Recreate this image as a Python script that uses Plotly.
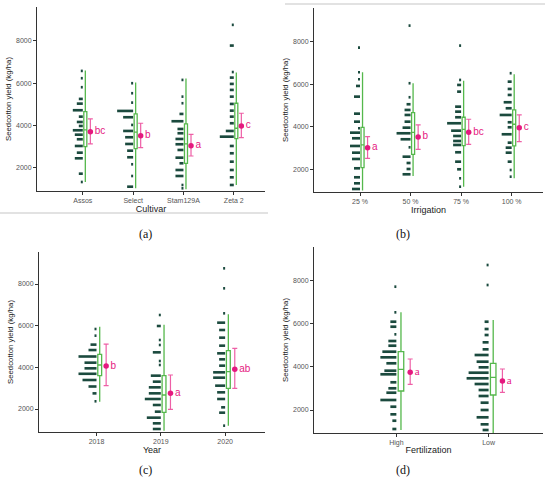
import plotly.graph_objects as go

# ---- data ------------------------------------------------------------------
CULTIVARS = ["Assos", "Select", "Stam129A", "Zeta 2"]
A_BINS = [
    [6573, 6228, 5803, 5250, 5027, 4715, 4412, 4160, 3972, 3768, 3560, 3343, 3026, 2710, 2444, 1716, 1324],
    [5992, 5519, 5075, 4682, 4384, 4020, 3736, 3438, 3121, 2804, 2492, 2161, 1607, 1101],
    [6148, 5358, 5046, 4540, 4195, 3830, 3627, 3357, 3107, 2837, 2473, 2208, 1891, 1607, 1182, 1026],
    [8750, 7771, 6520, 6257, 5959, 5675, 5358, 5013, 4696, 4412, 4100, 3736, 3466, 3026, 2681, 2284, 1891, 1545, 1182],
]
A_COUNTS = [
    [1, 1, 1, 2, 3, 5, 2, 3, 2, 5, 4, 3, 4, 3, 4, 2, 1],
    [1, 1, 1, 8, 5, 1, 5, 4, 4, 3, 3, 1, 1, 3],
    [1, 1, 1, 2, 6, 3, 3, 4, 4, 3, 4, 2, 4, 4, 1, 1],
    [1, 2, 1, 2, 2, 2, 2, 2, 2, 2, 2, 4, 7, 2, 2, 2, 2, 2, 2],
]
A_Q1 = [2993, 2899, 2208, 3372]
A_MED = [3783, 3680, 3121, 3864]
A_Q3 = [4649, 4540, 4067, 5046]
A_LOW = [1320, 1026, 980, 1182]
A_HIGH = [6588, 6020, 6210, 6493]
A_MEAN = [3703, 3514, 3041, 3972]
A_CI_LO = [3121, 2946, 2553, 3419]
A_CI_HI = [4303, 4100, 3577, 4573]
A_LETTERS = ["bc", "b", "a", "c"]

IRRIGATION = ["25 %", "50 %", "75 %", "100 %"]
B_BINS = [
    [7723, 6565, 6235, 5920, 5417, 4617, 4240, 3929, 3723, 3459, 3097, 2781, 2485, 2047, 1624, 1341, 1073],
    [8758, 6047, 5388, 5059, 4791, 4555, 4240, 3958, 3694, 3412, 3035, 2593, 2296, 2014, 1765],
    [7817, 6202, 5967, 5652, 4946, 4711, 4447, 4165, 3817, 3567, 3332, 3144, 2800, 2358, 2000, 1576, 1181],
    [6518, 6122, 5779, 5497, 5153, 4870, 4555, 4212, 3976, 3647, 3252, 3017, 2781, 2358, 1967, 1652],
]
B_COUNTS = [
    [1, 1, 1, 2, 3, 3, 3, 1, 5, 4, 5, 4, 4, 3, 3, 3, 4],
    [1, 1, 1, 2, 3, 3, 3, 4, 7, 5, 1, 4, 2, 2, 4],
    [1, 1, 2, 2, 3, 3, 3, 7, 5, 4, 4, 4, 3, 3, 2, 1, 1],
    [1, 2, 2, 2, 4, 3, 6, 2, 2, 5, 2, 3, 3, 2, 1, 1],
]
B_Q1 = [2075, 2706, 3112, 3097]
B_MED = [3144, 3741, 3882, 4118]
B_Q3 = [3976, 4667, 4447, 4791]
B_LOW = [1000, 1680, 1181, 1576]
B_HIGH = [6565, 6047, 6170, 6471]
B_MEAN = [3017, 3520, 3741, 3958]
B_CI_LO = [2518, 2941, 3176, 3299]
B_CI_HI = [3534, 4085, 4353, 4555]
B_LETTERS = ["a", "b", "bc", "c"]

YEARS = ["2018", "2019", "2020"]
C_BINS = [
    [5840, 5520, 5090, 4830, 4520, 4224, 3952, 3690, 3392, 3080, 2750, 2370],
    [6512, 5984, 5312, 5072, 4720, 4304, 4112, 3600, 3312, 3040, 2752, 2480, 2192, 1872, 1584, 1312, 1040],
    [8752, 7792, 6592, 6144, 5792, 5424, 5040, 4672, 4384, 4080, 3760, 3504, 3120, 2800, 2480, 2080, 1824, 1200],
]
C_COUNTS = [
    [1, 1, 3, 4, 9, 6, 6, 9, 7, 4, 2, 1],
    [1, 2, 1, 1, 4, 1, 1, 5, 4, 6, 6, 8, 4, 3, 7, 4, 4],
    [1, 1, 1, 4, 3, 3, 3, 4, 3, 3, 6, 6, 5, 4, 4, 2, 3, 1],
]
C_Q1 = [3600, 1840, 2992]
C_MED = [4112, 2672, 3792]
C_Q3 = [4624, 3600, 4800]
C_LOW = [2352, 950, 1200]
C_HIGH = [5952, 6040, 6544]
C_MEAN = [4064, 2752, 3904]
C_CI_LO = [3120, 1984, 2992]
C_CI_HI = [5110, 3632, 4912]
C_LETTERS = ["b", "a", "ab"]

FERTILIZATION = ["High", "Low"]
D_BINS = [
    [7722, 6533, 6097, 5865, 5512, 5202, 4984, 4706, 4445, 4167, 3824, 3657, 3286, 3007, 2803, 2464, 2153, 1800, 1503, 1118],
    [8728, 7800, 6097, 5758, 5480, 5141, 4816, 4552, 4242, 3981, 3731, 3471, 3206, 2928, 2650, 2339, 2000, 1661, 1336, 1072],
]
D_COUNTS = [
    [1, 1, 3, 3, 1, 4, 4, 7, 8, 5, 6, 8, 3, 4, 5, 8, 3, 3, 2, 2],
    [1, 1, 2, 2, 2, 3, 3, 7, 6, 5, 10, 11, 7, 5, 5, 4, 4, 6, 4, 3],
]
D_Q1 = [2882, 2696]
D_MED = [3887, 3517]
D_Q3 = [4706, 4167]
D_LOW = [1072, 930]
D_HIGH = [6533, 6176]
D_MEAN = [3749, 3346]
D_CI_LO = [3191, 2821]
D_CI_HI = [4366, 3902]
D_LETTERS = ["a", "a"]

# ---- styling ---------------------------------------------------------------
W, H = 550, 488
DARK = "#1b4a3e"
GREEN = "#55b84c"
PINK = "#e5197f"
PINK_BAR = "#ee5fa6"
AXIS = "#333333"
FONT = "Liberation Sans, Arial, sans-serif"
PX_PER_COUNT = 2.0      # width of one stacked dot, in px
BIN_HEIGHT = 125        # thickness of a dot row, in kg/ha

# panel frames in pixels: left, right, bottom, top  + x range + y range
PANELS = [
    dict(cats=CULTIVARS, bins=A_BINS, counts=A_COUNTS, q1=A_Q1, med=A_MED, q3=A_Q3,
         low=A_LOW, high=A_HIGH, mean=A_MEAN, lo=A_CI_LO, hi=A_CI_HI, letters=A_LETTERS,
         title="Cultivar", px=(37, 265, 191, 7), xr=(0.09, 4.62), yr=(898, 9594), serif=False),
    dict(cats=IRRIGATION, bins=B_BINS, counts=B_COUNTS, q1=B_Q1, med=B_MED, q3=B_Q3,
         low=B_LOW, high=B_HIGH, mean=B_MEAN, lo=B_CI_LO, hi=B_CI_HI, letters=B_LETTERS,
         title="Irrigation", px=(314, 543, 192, 8), xr=(0.09, 4.62), yr=(932, 9586), serif=False),
    dict(cats=YEARS, bins=C_BINS, counts=C_COUNTS, q1=C_Q1, med=C_MED, q3=C_Q3,
         low=C_LOW, high=C_HIGH, mean=C_MEAN, lo=C_CI_LO, hi=C_CI_HI, letters=C_LETTERS,
         title="Year", px=(39, 265, 432, 252), xr=(0.106, 3.62), yr=(896, 9536), serif=False),
    dict(cats=FERTILIZATION, bins=D_BINS, counts=D_COUNTS, q1=D_Q1, med=D_MED, q3=D_Q3,
         low=D_LOW, high=D_HIGH, mean=D_MEAN, lo=D_CI_LO, hi=D_CI_HI, letters=D_LETTERS,
         title="Fertilization", px=(314, 543, 433, 247), xr=(0.107, 2.59), yr=(933, 9564), serif=True),
]

fig = go.Figure()
layout = {}

for i, p in enumerate(PANELS):
    n = "" if i == 0 else str(i + 1)
    xa, ya = "x" + n, "y" + n
    left, right, bottom, top = p["px"]
    unit_px = (right - left) / (p["xr"][1] - p["xr"][0])
    k = PX_PER_COUNT / unit_px
    pos = list(range(1, len(p["cats"]) + 1))

    # stacked-dot histogram drawn as horizontal bars growing to the left
    for j, x0 in enumerate(pos):
        fig.add_trace(go.Bar(
            y=p["bins"][j], x=[-c * k for c in p["counts"][j]], base=x0,
            orientation="h", width=BIN_HEIGHT,
            marker=dict(color=DARK, line=dict(width=0)),
            xaxis=xa, yaxis=ya, showlegend=False, hoverinfo="skip",
        ))

    fig.add_trace(go.Box(
        x=[x0 + 0.05 for x0 in pos], q1=p["q1"], median=p["med"], q3=p["q3"],
        lowerfence=p["low"], upperfence=p["high"], width=0.06,
        line=dict(color=GREEN, width=1.3), fillcolor="rgba(255,255,255,0)",
        whiskerwidth=0, boxpoints=False, xaxis=xa, yaxis=ya, showlegend=False,
    ))

    fig.add_trace(go.Scatter(
        x=[x0 + 0.15 for x0 in pos], y=p["mean"], mode="markers+text",
        marker=dict(color=PINK, size=5.5),
        error_y=dict(type="data", symmetric=False,
                     array=[h - m for h, m in zip(p["hi"], p["mean"])],
                     arrayminus=[m - l for m, l in zip(p["mean"], p["lo"])],
                     color=PINK_BAR, thickness=1.2, width=2.5),
        text=p["letters"], textposition="middle right",
        textfont=dict(color=PINK, size=11 if p["serif"] else 10,
                      family="Liberation Serif, Times New Roman, serif" if p["serif"] else FONT),
        xaxis=xa, yaxis=ya, showlegend=False, hoverinfo="skip",
    ))

    layout["xaxis" + n] = dict(
        domain=[left / W, right / W], range=list(p["xr"]), anchor=ya,
        tickvals=pos, ticktext=p["cats"],
        showline=True, linecolor=AXIS, linewidth=1, ticks="outside", ticklen=3,
        tickcolor=AXIS, tickfont=dict(size=7, color="#555555"),
        showgrid=False, zeroline=False,
        title=dict(text=p["title"], font=dict(size=9, color="#1a1a1a"), standoff=0),
    )
    layout["yaxis" + n] = dict(
        domain=[1 - bottom / H, 1 - top / H], range=list(p["yr"]), anchor=xa,
        tickvals=[2000, 4000, 6000, 8000],
        showline=True, linecolor=AXIS, linewidth=1, ticks="outside", ticklen=3,
        tickcolor=AXIS, tickfont=dict(size=7, color="#555555"),
        showgrid=False, zeroline=False,
        title=dict(text="Seedcotton yield (kg/ha)", font=dict(size=7.8, color="#1a1a1a"), standoff=3),
    )

labels = [("(a)", 137, 234), ("(b)", 412, 234), ("(c)", 137, 479), ("(d)", 412, 479)]
annotations = [dict(text=t, x=x / W, y=1 - y / H, xref="paper", yref="paper",
                    showarrow=False, font=dict(family="Liberation Serif, Times New Roman, serif",
                                               size=12, color="#111111"))
               for t, x, y in labels]

shapes = [
    dict(type="line", xref="paper", yref="paper", x0=0, x1=268 / W,
         y0=1 - 213 / H, y1=1 - 213 / H, line=dict(color="#e2e2e2", width=2)),
    dict(type="line", xref="paper", yref="paper", x0=285 / W, x1=545 / W,
         y0=1 - 4 / H, y1=1 - 4 / H, line=dict(color="#e2e2e2", width=2)),
]

fig.update_layout(
    width=W, height=H, margin=dict(l=0, r=0, t=0, b=0),
    paper_bgcolor="white", plot_bgcolor="white",
    barmode="overlay", boxmode="overlay", showlegend=False,
    font=dict(family=FONT), annotations=annotations, shapes=shapes,
    **layout,
)

# the page body has a default 8px margin; drop it so the figure sits at 0,0
fig.write_html("out.html", config={"displayModeBar": False},
               post_script="document.body.style.margin='0';")
